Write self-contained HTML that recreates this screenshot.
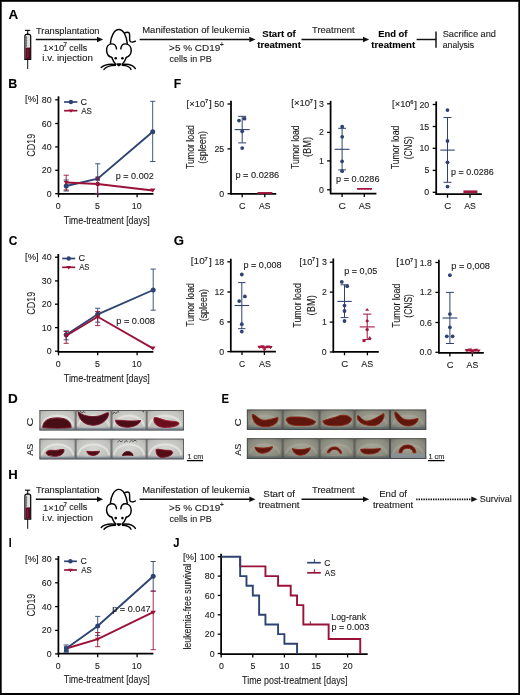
<!DOCTYPE html>
<html><head><meta charset="utf-8"><title>Figure</title>
<style>
html,body{margin:0;padding:0;background:#fff;width:520px;height:695px;overflow:hidden;}
svg{display:block;will-change:transform;}
text{font-family:"Liberation Sans",sans-serif;stroke:currentColor;stroke-width:0.1px;}
</style></head><body>
<svg width="520" height="695" viewBox="0 0 520 695">
<rect width="520" height="695" fill="#fff"/>
<text x="8.47" y="18.60" font-size="12.5" font-weight="bold" fill="#000" textLength="9.69" lengthAdjust="spacingAndGlyphs">A</text>
<text x="8.17" y="87.50" font-size="12.5" font-weight="bold" fill="#000" textLength="9.00" lengthAdjust="spacingAndGlyphs">B</text>
<text x="8.71" y="245.20" font-size="12.5" font-weight="bold" fill="#000" textLength="8.62" lengthAdjust="spacingAndGlyphs">C</text>
<text x="7.99" y="402.50" font-size="12.5" font-weight="bold" fill="#000" textLength="9.77" lengthAdjust="spacingAndGlyphs">D</text>
<text x="221.45" y="402.50" font-size="12.5" font-weight="bold" fill="#000" textLength="7.49" lengthAdjust="spacingAndGlyphs">E</text>
<text x="173.68" y="87.50" font-size="12.5" font-weight="bold" fill="#000" textLength="7.47" lengthAdjust="spacingAndGlyphs">F</text>
<text x="173.76" y="245.10" font-size="12.5" font-weight="bold" fill="#000" textLength="10.26" lengthAdjust="spacingAndGlyphs">G</text>
<text x="8.22" y="478.60" font-size="12.5" font-weight="bold" fill="#000" textLength="9.46" lengthAdjust="spacingAndGlyphs">H</text>
<text x="8.80" y="547.10" font-size="12.5" font-weight="bold" fill="#000" textLength="2.89" lengthAdjust="spacingAndGlyphs">I</text>
<text x="173.23" y="547.10" font-size="12.5" font-weight="bold" fill="#000" textLength="6.24" lengthAdjust="spacingAndGlyphs">J</text>
<g transform="translate(0,0)">
<line x1="25.00" y1="30.40" x2="30.20" y2="30.40" stroke="#111" stroke-width="1.2"/>
<line x1="27.70" y1="30.40" x2="27.70" y2="34.40" stroke="#111" stroke-width="1.1"/>
<path d="M24.9,36 Q24.9,34.2 27.7,34.1 Q30.7,34.2 30.7,36 L30.7,59.4 L24.9,59.4 Z" fill="#e0e0e0" stroke="#000" stroke-width="1.2"/>
<rect x="25.5" y="47.6" width="4.6" height="11.4" fill="#5a0a22"/>
<rect x="26.8" y="49" width="1.5" height="8.5" fill="#8a1e40" opacity="0.8"/>
<rect x="25.5" y="36" width="1.3" height="11" fill="#7a7a7a"/>
<line x1="25.40" y1="38.00" x2="27.30" y2="38.00" stroke="#555" stroke-width="0.6"/>
<line x1="25.40" y1="40.50" x2="27.30" y2="40.50" stroke="#555" stroke-width="0.6"/>
<line x1="25.40" y1="43.00" x2="27.30" y2="43.00" stroke="#555" stroke-width="0.6"/>
<line x1="25.40" y1="45.50" x2="27.30" y2="45.50" stroke="#555" stroke-width="0.6"/>
<line x1="27.70" y1="59.40" x2="27.70" y2="69.00" stroke="#111" stroke-width="1.0"/>
</g>
<text x="35.99" y="33.50" font-size="8.4" fill="#262626" textLength="63.51" lengthAdjust="spacingAndGlyphs">Transplantation</text>
<line x1="35.80" y1="39.50" x2="97.50" y2="39.50" stroke="#111" stroke-width="1.45"/>
<path d="M97.00,36.80 L103.20,39.50 L97.00,42.20Z" fill="#111"/>
<text x="43.08" y="50.80" font-size="8.4" fill="#262626" textLength="21.29" lengthAdjust="spacingAndGlyphs">1×10</text>
<text x="63.60" y="46.90" font-size="6.3" font-weight="bold" fill="#444" text-anchor="start">7</text>
<text x="69.22" y="50.60" font-size="8.4" fill="#262626" textLength="17.90" lengthAdjust="spacingAndGlyphs">cells</text>
<text x="42.35" y="61.20" font-size="8.4" fill="#262626" textLength="50.58" lengthAdjust="spacingAndGlyphs">i.v. injection</text>
<g transform="translate(0,0)" fill="none" stroke="#000" stroke-width="1.45" stroke-linecap="round" stroke-linejoin="round">
<path d="M110.4,43.4 C110.8,37 114,29.6 118.8,29.6 C123.5,29.6 126.6,36 127.3,43.6"/>
<path d="M125,32.7 C126.5,32.2 128.3,32 129.2,33 C130.2,34.5 129.2,38.5 129.8,40.6 C130.4,42.6 133.5,42.4 135.4,41.2"/>
<path d="M116.5,48.9 C116.2,45.5 114,43.8 111.5,43.9 C108.3,44.1 106.4,47 106.6,50.6 C106.8,54.2 109,56.6 111.8,57.4"/>
<path d="M120.8,48.9 C121.1,45.5 123.3,43.8 125.8,43.9 C129,44.1 131.2,47 131.2,50.6 C131.1,54.2 129,56.6 126.3,57.4"/>
<path d="M111.8,57.4 C112.8,60 114,62.6 115.6,64.2"/>
<path d="M126.3,57.4 C125.3,60 124,62.6 122.3,64.2"/>
<path d="M115.2,64.4 C110,63.8 104,64.8 101.2,67.6"/>
<path d="M115.4,65.4 C111,65.5 106,66.8 104.0,69.4"/>
<path d="M122.6,64.4 C127.6,63.8 133,64.8 135.4,68.6"/>
<path d="M122.4,65.4 C126.6,65.5 129.8,66.8 131.0,69.4"/>
</g>
<g transform="translate(0,0)">
<circle cx="115.70" cy="58.30" r="1.3" fill="#000"/>
<circle cx="122.40" cy="58.30" r="1.3" fill="#000"/>
<path d="M116.2,63.8 C117.5,63.2 120.3,63.2 121.6,63.8 C121.2,65.2 120,66.2 118.9,66.4 C117.8,66.2 116.6,65.2 116.2,63.8Z" fill="#000"/>
</g>
<line x1="139.60" y1="39.50" x2="249.80" y2="39.50" stroke="#111" stroke-width="1.45"/>
<path d="M249.30,36.80 L255.50,39.50 L249.30,42.20Z" fill="#111"/>
<text x="142.22" y="33.40" font-size="8.4" fill="#262626" textLength="107.48" lengthAdjust="spacingAndGlyphs">Manifestation of leukemia</text>
<text x="169.11" y="51.20" font-size="8.4" fill="#262626" textLength="51.16" lengthAdjust="spacingAndGlyphs">&gt;5 % CD19</text>
<text x="219.90" y="47.30" font-size="6.3" font-weight="bold" fill="#444" text-anchor="start">+</text>
<text x="169.62" y="62.00" font-size="8.4" fill="#262626" textLength="42.06" lengthAdjust="spacingAndGlyphs">cells in PB</text>
<g transform="translate(0,459.8)">
<line x1="25.00" y1="30.40" x2="30.20" y2="30.40" stroke="#111" stroke-width="1.2"/>
<line x1="27.70" y1="30.40" x2="27.70" y2="34.40" stroke="#111" stroke-width="1.1"/>
<path d="M24.9,36 Q24.9,34.2 27.7,34.1 Q30.7,34.2 30.7,36 L30.7,59.4 L24.9,59.4 Z" fill="#e0e0e0" stroke="#000" stroke-width="1.2"/>
<rect x="25.5" y="47.6" width="4.6" height="11.4" fill="#5a0a22"/>
<rect x="26.8" y="49" width="1.5" height="8.5" fill="#8a1e40" opacity="0.8"/>
<rect x="25.5" y="36" width="1.3" height="11" fill="#7a7a7a"/>
<line x1="25.40" y1="38.00" x2="27.30" y2="38.00" stroke="#555" stroke-width="0.6"/>
<line x1="25.40" y1="40.50" x2="27.30" y2="40.50" stroke="#555" stroke-width="0.6"/>
<line x1="25.40" y1="43.00" x2="27.30" y2="43.00" stroke="#555" stroke-width="0.6"/>
<line x1="25.40" y1="45.50" x2="27.30" y2="45.50" stroke="#555" stroke-width="0.6"/>
<line x1="27.70" y1="59.40" x2="27.70" y2="69.00" stroke="#111" stroke-width="1.0"/>
</g>
<text x="35.99" y="493.30" font-size="8.4" fill="#262626" textLength="63.51" lengthAdjust="spacingAndGlyphs">Transplantation</text>
<line x1="35.80" y1="499.30" x2="97.50" y2="499.30" stroke="#111" stroke-width="1.45"/>
<path d="M97.00,496.60 L103.20,499.30 L97.00,502.00Z" fill="#111"/>
<text x="43.08" y="510.60" font-size="8.4" fill="#262626" textLength="21.29" lengthAdjust="spacingAndGlyphs">1×10</text>
<text x="63.60" y="506.70" font-size="6.3" font-weight="bold" fill="#444" text-anchor="start">7</text>
<text x="69.22" y="510.40" font-size="8.4" fill="#262626" textLength="17.90" lengthAdjust="spacingAndGlyphs">cells</text>
<text x="42.35" y="521.00" font-size="8.4" fill="#262626" textLength="50.58" lengthAdjust="spacingAndGlyphs">i.v. injection</text>
<g transform="translate(0,459.8)" fill="none" stroke="#000" stroke-width="1.45" stroke-linecap="round" stroke-linejoin="round">
<path d="M110.4,43.4 C110.8,37 114,29.6 118.8,29.6 C123.5,29.6 126.6,36 127.3,43.6"/>
<path d="M125,32.7 C126.5,32.2 128.3,32 129.2,33 C130.2,34.5 129.2,38.5 129.8,40.6 C130.4,42.6 133.5,42.4 135.4,41.2"/>
<path d="M116.5,48.9 C116.2,45.5 114,43.8 111.5,43.9 C108.3,44.1 106.4,47 106.6,50.6 C106.8,54.2 109,56.6 111.8,57.4"/>
<path d="M120.8,48.9 C121.1,45.5 123.3,43.8 125.8,43.9 C129,44.1 131.2,47 131.2,50.6 C131.1,54.2 129,56.6 126.3,57.4"/>
<path d="M111.8,57.4 C112.8,60 114,62.6 115.6,64.2"/>
<path d="M126.3,57.4 C125.3,60 124,62.6 122.3,64.2"/>
<path d="M115.2,64.4 C110,63.8 104,64.8 101.2,67.6"/>
<path d="M115.4,65.4 C111,65.5 106,66.8 104.0,69.4"/>
<path d="M122.6,64.4 C127.6,63.8 133,64.8 135.4,68.6"/>
<path d="M122.4,65.4 C126.6,65.5 129.8,66.8 131.0,69.4"/>
</g>
<g transform="translate(0,459.8)">
<circle cx="115.70" cy="58.30" r="1.3" fill="#000"/>
<circle cx="122.40" cy="58.30" r="1.3" fill="#000"/>
<path d="M116.2,63.8 C117.5,63.2 120.3,63.2 121.6,63.8 C121.2,65.2 120,66.2 118.9,66.4 C117.8,66.2 116.6,65.2 116.2,63.8Z" fill="#000"/>
</g>
<line x1="139.60" y1="499.30" x2="249.80" y2="499.30" stroke="#111" stroke-width="1.45"/>
<path d="M249.30,496.60 L255.50,499.30 L249.30,502.00Z" fill="#111"/>
<text x="142.22" y="493.20" font-size="8.4" fill="#262626" textLength="107.48" lengthAdjust="spacingAndGlyphs">Manifestation of leukemia</text>
<text x="169.11" y="511.00" font-size="8.4" fill="#262626" textLength="51.16" lengthAdjust="spacingAndGlyphs">&gt;5 % CD19</text>
<text x="219.90" y="507.10" font-size="6.3" font-weight="bold" fill="#444" text-anchor="start">+</text>
<text x="169.62" y="521.80" font-size="8.4" fill="#262626" textLength="42.06" lengthAdjust="spacingAndGlyphs">cells in PB</text>
<text x="262.32" y="36.60" font-size="8.6" font-weight="bold" fill="#000" textLength="33.46" lengthAdjust="spacingAndGlyphs">Start of</text>
<text x="257.28" y="48.00" font-size="8.6" font-weight="bold" fill="#000" textLength="43.63" lengthAdjust="spacingAndGlyphs">treatment</text>
<line x1="301.50" y1="39.50" x2="363.50" y2="39.50" stroke="#111" stroke-width="1.45"/>
<path d="M363.00,36.80 L369.20,39.50 L363.00,42.20Z" fill="#111"/>
<text x="312.09" y="33.00" font-size="8.4" fill="#262626" textLength="42.48" lengthAdjust="spacingAndGlyphs">Treatment</text>
<text x="378.17" y="36.60" font-size="8.6" font-weight="bold" fill="#000" textLength="29.21" lengthAdjust="spacingAndGlyphs">End of</text>
<text x="371.38" y="48.00" font-size="8.6" font-weight="bold" fill="#000" textLength="43.83" lengthAdjust="spacingAndGlyphs">treatment</text>
<line x1="416.60" y1="39.50" x2="436.20" y2="39.50" stroke="#111" stroke-width="1.45"/>
<line x1="436.00" y1="31.50" x2="436.00" y2="47.80" stroke="#111" stroke-width="1.45"/>
<text x="442.68" y="36.60" font-size="8.4" fill="#262626" textLength="53.31" lengthAdjust="spacingAndGlyphs">Sacrifice and</text>
<text x="442.73" y="47.70" font-size="8.4" fill="#262626" textLength="31.38" lengthAdjust="spacingAndGlyphs">analysis</text>
<text x="263.36" y="496.60" font-size="8.4" fill="#262626" textLength="31.53" lengthAdjust="spacingAndGlyphs">Start of</text>
<text x="258.75" y="508.00" font-size="8.4" fill="#262626" textLength="40.82" lengthAdjust="spacingAndGlyphs">treatment</text>
<line x1="301.50" y1="499.30" x2="363.50" y2="499.30" stroke="#111" stroke-width="1.45"/>
<path d="M363.00,496.60 L369.20,499.30 L363.00,502.00Z" fill="#111"/>
<text x="312.09" y="493.10" font-size="8.4" fill="#262626" textLength="42.58" lengthAdjust="spacingAndGlyphs">Treatment</text>
<text x="379.21" y="496.60" font-size="8.4" fill="#262626" textLength="27.67" lengthAdjust="spacingAndGlyphs">End of</text>
<text x="372.96" y="508.00" font-size="8.4" fill="#262626" textLength="40.21" lengthAdjust="spacingAndGlyphs">treatment</text>
<line x1="416.20" y1="499.30" x2="471.80" y2="499.30" stroke="#111" stroke-width="1.7" stroke-dasharray="1.4 1.0"/>
<path d="M471.30,496.60 L477.50,499.30 L471.30,502.00Z" fill="#111"/>
<text x="479.79" y="502.20" font-size="8.4" fill="#262626" textLength="32.11" lengthAdjust="spacingAndGlyphs">Survival</text>
<line x1="58.50" y1="96.30" x2="58.50" y2="194.40" stroke="#000" stroke-width="1.75"/>
<line x1="57.90" y1="193.80" x2="153.50" y2="193.80" stroke="#000" stroke-width="1.75"/>
<line x1="55.20" y1="99.80" x2="58.50" y2="99.80" stroke="#000" stroke-width="1.3"/>
<text x="41.76" y="102.87" font-size="8.8" fill="#262626">80</text>
<line x1="55.20" y1="123.50" x2="58.50" y2="123.50" stroke="#000" stroke-width="1.3"/>
<text x="41.76" y="126.57" font-size="8.8" fill="#262626">60</text>
<line x1="55.20" y1="146.90" x2="58.50" y2="146.90" stroke="#000" stroke-width="1.3"/>
<text x="41.76" y="149.97" font-size="8.8" fill="#262626">40</text>
<line x1="55.20" y1="170.30" x2="58.50" y2="170.30" stroke="#000" stroke-width="1.3"/>
<text x="41.76" y="173.37" font-size="8.8" fill="#262626">20</text>
<line x1="55.20" y1="193.70" x2="58.50" y2="193.70" stroke="#000" stroke-width="1.3"/>
<text x="46.65" y="196.77" font-size="8.8" fill="#262626">0</text>
<text x="25.13" y="102.47" font-size="8.8" fill="#262626" textLength="13.54" lengthAdjust="spacingAndGlyphs">[%]</text>
<line x1="58.50" y1="193.80" x2="58.50" y2="197.30" stroke="#000" stroke-width="1.3"/>
<text x="55.75" y="208.80" font-size="8.8" fill="#262626">0</text>
<line x1="97.70" y1="193.80" x2="97.70" y2="197.30" stroke="#000" stroke-width="1.3"/>
<text x="94.96" y="208.80" font-size="8.8" fill="#262626">5</text>
<line x1="137.10" y1="193.80" x2="137.10" y2="197.30" stroke="#000" stroke-width="1.3"/>
<text x="131.74" y="208.80" font-size="8.8" fill="#262626">10</text>
<text x="63.80" y="223.50" font-size="10.5" fill="#262626" textLength="86.03" lengthAdjust="spacingAndGlyphs">Time-treatment [days]</text>
<text transform="rotate(-90)" x="-156.65" y="34.90" font-size="11.0" fill="#262626" textLength="22.88" lengthAdjust="spacingAndGlyphs">CD19</text>
<line x1="64.10" y1="102.00" x2="77.30" y2="102.00" stroke="#2d4472" stroke-width="1.7"/>
<circle cx="70.90" cy="102.00" r="2.2" fill="#2d4472"/>
<line x1="64.10" y1="110.70" x2="77.30" y2="110.70" stroke="#9a1238" stroke-width="1.7"/>
<path d="M68.50,109.40 L73.30,109.40 L70.90,112.86Z" fill="#9a1238"/>
<text x="80.54" y="104.90" font-size="9.200000000000001" fill="#262626" textLength="6.50" lengthAdjust="spacingAndGlyphs">C</text>
<text x="81.18" y="113.60" font-size="9.200000000000001" fill="#262626" textLength="10.68" lengthAdjust="spacingAndGlyphs">AS</text>
<line x1="152.70" y1="101.30" x2="152.70" y2="161.50" stroke="#2d4472" stroke-width="0.9"/>
<line x1="150.10" y1="101.30" x2="155.30" y2="101.30" stroke="#2d4472" stroke-width="0.9"/>
<line x1="150.10" y1="161.50" x2="155.30" y2="161.50" stroke="#2d4472" stroke-width="0.9"/>
<line x1="97.70" y1="163.80" x2="97.70" y2="193.40" stroke="#2d4472" stroke-width="0.9"/>
<line x1="95.10" y1="163.80" x2="100.30" y2="163.80" stroke="#2d4472" stroke-width="0.9"/>
<line x1="95.10" y1="193.40" x2="100.30" y2="193.40" stroke="#2d4472" stroke-width="0.9"/>
<line x1="66.20" y1="180.00" x2="66.20" y2="191.00" stroke="#2d4472" stroke-width="0.9"/>
<line x1="63.60" y1="180.00" x2="68.80" y2="180.00" stroke="#2d4472" stroke-width="0.9"/>
<line x1="63.60" y1="191.00" x2="68.80" y2="191.00" stroke="#2d4472" stroke-width="0.9"/>
<line x1="66.20" y1="175.20" x2="66.20" y2="190.00" stroke="#9a1238" stroke-width="0.9"/>
<line x1="63.60" y1="175.20" x2="68.80" y2="175.20" stroke="#9a1238" stroke-width="0.9"/>
<line x1="63.60" y1="190.00" x2="68.80" y2="190.00" stroke="#9a1238" stroke-width="0.9"/>
<line x1="97.70" y1="184.00" x2="97.70" y2="196.00" stroke="#9a1238" stroke-width="0.9"/>
<line x1="97.69" y1="184.00" x2="97.71" y2="184.00" stroke="#9a1238" stroke-width="0.9"/>
<line x1="97.69" y1="196.00" x2="97.71" y2="196.00" stroke="#9a1238" stroke-width="0.9"/>
<polyline points="66.20,186.00 97.70,178.60 152.70,131.70" fill="none" stroke="#2d4472" stroke-width="1.9" stroke-linejoin="miter"/>
<polyline points="66.20,182.50 97.70,184.00 152.70,190.50" fill="none" stroke="#9a1238" stroke-width="1.9" stroke-linejoin="miter"/>
<circle cx="66.20" cy="186.00" r="2.5" fill="#2d4472"/>
<rect x="95.50" y="176.40" width="4.40" height="4.40" fill="#5a2a5a"/>
<circle cx="152.70" cy="131.70" r="2.5" fill="#2d4472"/>
<path d="M63.60,181.10 L68.80,181.10 L66.20,184.84Z" fill="#9a1238"/>
<circle cx="97.70" cy="184.00" r="2.3" fill="#9a1238"/>
<path d="M149.90,188.49 L155.50,188.49 L152.70,192.52Z" fill="#9a1238"/>
<text x="115.72" y="178.80" font-size="8.8" fill="#262626" textLength="38.04" lengthAdjust="spacingAndGlyphs">p = 0.002</text>
<line x1="58.30" y1="254.00" x2="58.30" y2="352.40" stroke="#000" stroke-width="1.75"/>
<line x1="57.70" y1="351.80" x2="153.40" y2="351.80" stroke="#000" stroke-width="1.75"/>
<line x1="55.00" y1="257.20" x2="58.30" y2="257.20" stroke="#000" stroke-width="1.3"/>
<text x="41.76" y="260.27" font-size="8.8" fill="#262626">40</text>
<line x1="55.00" y1="280.90" x2="58.30" y2="280.90" stroke="#000" stroke-width="1.3"/>
<text x="41.76" y="283.97" font-size="8.8" fill="#262626">30</text>
<line x1="55.00" y1="304.20" x2="58.30" y2="304.20" stroke="#000" stroke-width="1.3"/>
<text x="41.76" y="307.27" font-size="8.8" fill="#262626">20</text>
<line x1="55.00" y1="327.60" x2="58.30" y2="327.60" stroke="#000" stroke-width="1.3"/>
<text x="41.76" y="330.67" font-size="8.8" fill="#262626">10</text>
<line x1="55.00" y1="351.20" x2="58.30" y2="351.20" stroke="#000" stroke-width="1.3"/>
<text x="46.65" y="354.27" font-size="8.8" fill="#262626">0</text>
<text x="25.13" y="259.87" font-size="8.8" fill="#262626" textLength="13.54" lengthAdjust="spacingAndGlyphs">[%]</text>
<line x1="58.50" y1="351.80" x2="58.50" y2="355.30" stroke="#000" stroke-width="1.3"/>
<text x="55.75" y="366.80" font-size="8.8" fill="#262626">0</text>
<line x1="97.70" y1="351.80" x2="97.70" y2="355.30" stroke="#000" stroke-width="1.3"/>
<text x="94.96" y="366.80" font-size="8.8" fill="#262626">5</text>
<line x1="137.10" y1="351.80" x2="137.10" y2="355.30" stroke="#000" stroke-width="1.3"/>
<text x="131.74" y="366.80" font-size="8.8" fill="#262626">10</text>
<text x="63.80" y="381.50" font-size="10.5" fill="#262626" textLength="86.03" lengthAdjust="spacingAndGlyphs">Time-treatment [days]</text>
<text transform="rotate(-90)" x="-314.65" y="34.90" font-size="11.0" fill="#262626" textLength="22.88" lengthAdjust="spacingAndGlyphs">CD19</text>
<line x1="62.20" y1="258.50" x2="75.20" y2="258.50" stroke="#2d4472" stroke-width="1.7"/>
<circle cx="68.70" cy="258.50" r="2.2" fill="#2d4472"/>
<line x1="62.20" y1="267.30" x2="75.20" y2="267.30" stroke="#9a1238" stroke-width="1.7"/>
<path d="M66.30,266.00 L71.10,266.00 L68.70,269.46Z" fill="#9a1238"/>
<text x="78.53" y="261.40" font-size="9.200000000000001" fill="#262626" textLength="6.61" lengthAdjust="spacingAndGlyphs">C</text>
<text x="79.18" y="270.20" font-size="9.200000000000001" fill="#262626" textLength="10.27" lengthAdjust="spacingAndGlyphs">AS</text>
<line x1="153.20" y1="269.10" x2="153.20" y2="310.20" stroke="#2d4472" stroke-width="0.9"/>
<line x1="150.60" y1="269.10" x2="155.80" y2="269.10" stroke="#2d4472" stroke-width="0.9"/>
<line x1="150.60" y1="310.20" x2="155.80" y2="310.20" stroke="#2d4472" stroke-width="0.9"/>
<line x1="97.70" y1="308.30" x2="97.70" y2="322.20" stroke="#2d4472" stroke-width="0.9"/>
<line x1="95.10" y1="308.30" x2="100.30" y2="308.30" stroke="#2d4472" stroke-width="0.9"/>
<line x1="95.10" y1="322.20" x2="100.30" y2="322.20" stroke="#2d4472" stroke-width="0.9"/>
<line x1="66.20" y1="330.90" x2="66.20" y2="339.80" stroke="#2d4472" stroke-width="0.9"/>
<line x1="63.60" y1="330.90" x2="68.80" y2="330.90" stroke="#2d4472" stroke-width="0.9"/>
<line x1="63.60" y1="339.80" x2="68.80" y2="339.80" stroke="#2d4472" stroke-width="0.9"/>
<polyline points="66.20,334.80 97.70,314.30 153.20,290.00" fill="none" stroke="#2d4472" stroke-width="1.9" stroke-linejoin="miter"/>
<circle cx="66.20" cy="334.80" r="2.5" fill="#2d4472"/>
<circle cx="97.70" cy="314.30" r="2.5" fill="#2d4472"/>
<circle cx="153.20" cy="290.00" r="2.5" fill="#2d4472"/>
<line x1="97.70" y1="311.50" x2="97.70" y2="325.60" stroke="#9a1238" stroke-width="0.9"/>
<line x1="95.10" y1="311.50" x2="100.30" y2="311.50" stroke="#9a1238" stroke-width="0.9"/>
<line x1="95.10" y1="325.60" x2="100.30" y2="325.60" stroke="#9a1238" stroke-width="0.9"/>
<line x1="66.20" y1="331.50" x2="66.20" y2="343.30" stroke="#9a1238" stroke-width="0.9"/>
<line x1="63.60" y1="331.50" x2="68.80" y2="331.50" stroke="#9a1238" stroke-width="0.9"/>
<line x1="63.60" y1="343.30" x2="68.80" y2="343.30" stroke="#9a1238" stroke-width="0.9"/>
<polyline points="66.20,335.80 97.70,316.80 152.80,348.40" fill="none" stroke="#9a1238" stroke-width="1.9" stroke-linejoin="miter"/>
<path d="M63.60,334.40 L68.80,334.40 L66.20,338.14Z" fill="#9a1238"/>
<path d="M95.10,315.40 L100.30,315.40 L97.70,319.14Z" fill="#9a1238"/>
<path d="M150.00,346.49 L155.60,346.49 L152.80,350.52Z" fill="#9a1238"/>
<text x="116.21" y="323.50" font-size="8.8" fill="#262626" textLength="38.69" lengthAdjust="spacingAndGlyphs">p = 0.008</text>
<line x1="58.40" y1="556.00" x2="58.40" y2="654.30" stroke="#000" stroke-width="1.75"/>
<line x1="57.80" y1="653.70" x2="153.40" y2="653.70" stroke="#000" stroke-width="1.75"/>
<line x1="55.10" y1="559.10" x2="58.40" y2="559.10" stroke="#000" stroke-width="1.3"/>
<text x="41.76" y="562.17" font-size="8.8" fill="#262626">80</text>
<line x1="55.10" y1="582.80" x2="58.40" y2="582.80" stroke="#000" stroke-width="1.3"/>
<text x="41.76" y="585.87" font-size="8.8" fill="#262626">60</text>
<line x1="55.10" y1="606.60" x2="58.40" y2="606.60" stroke="#000" stroke-width="1.3"/>
<text x="41.76" y="609.67" font-size="8.8" fill="#262626">40</text>
<line x1="55.10" y1="630.40" x2="58.40" y2="630.40" stroke="#000" stroke-width="1.3"/>
<text x="41.76" y="633.47" font-size="8.8" fill="#262626">20</text>
<line x1="55.10" y1="653.90" x2="58.40" y2="653.90" stroke="#000" stroke-width="1.3"/>
<text x="46.65" y="656.97" font-size="8.8" fill="#262626">0</text>
<text x="25.13" y="561.77" font-size="8.8" fill="#262626" textLength="13.54" lengthAdjust="spacingAndGlyphs">[%]</text>
<line x1="58.50" y1="653.70" x2="58.50" y2="657.20" stroke="#000" stroke-width="1.3"/>
<text x="55.75" y="668.70" font-size="8.8" fill="#262626">0</text>
<line x1="97.70" y1="653.70" x2="97.70" y2="657.20" stroke="#000" stroke-width="1.3"/>
<text x="94.96" y="668.70" font-size="8.8" fill="#262626">5</text>
<line x1="137.10" y1="653.70" x2="137.10" y2="657.20" stroke="#000" stroke-width="1.3"/>
<text x="131.74" y="668.70" font-size="8.8" fill="#262626">10</text>
<text x="63.80" y="683.40" font-size="10.5" fill="#262626" textLength="86.03" lengthAdjust="spacingAndGlyphs">Time-treatment [days]</text>
<text transform="rotate(-90)" x="-616.55" y="34.90" font-size="11.0" fill="#262626" textLength="22.88" lengthAdjust="spacingAndGlyphs">CD19</text>
<line x1="64.10" y1="561.30" x2="76.90" y2="561.30" stroke="#2d4472" stroke-width="1.7"/>
<circle cx="70.40" cy="561.30" r="2.2" fill="#2d4472"/>
<line x1="64.10" y1="570.00" x2="76.90" y2="570.00" stroke="#9a1238" stroke-width="1.7"/>
<path d="M68.00,568.70 L72.80,568.70 L70.40,572.16Z" fill="#9a1238"/>
<text x="80.56" y="564.20" font-size="9.200000000000001" fill="#262626" textLength="6.27" lengthAdjust="spacingAndGlyphs">C</text>
<text x="81.18" y="572.90" font-size="9.200000000000001" fill="#262626" textLength="10.48" lengthAdjust="spacingAndGlyphs">AS</text>
<line x1="153.20" y1="561.50" x2="153.20" y2="591.10" stroke="#2d4472" stroke-width="0.9"/>
<line x1="150.60" y1="561.50" x2="155.80" y2="561.50" stroke="#2d4472" stroke-width="0.9"/>
<line x1="150.60" y1="591.10" x2="155.80" y2="591.10" stroke="#2d4472" stroke-width="0.9"/>
<line x1="153.20" y1="591.10" x2="153.20" y2="649.70" stroke="#9a1238" stroke-width="0.9"/>
<line x1="150.60" y1="591.10" x2="155.80" y2="591.10" stroke="#9a1238" stroke-width="0.9"/>
<line x1="150.60" y1="649.70" x2="155.80" y2="649.70" stroke="#9a1238" stroke-width="0.9"/>
<line x1="97.70" y1="616.40" x2="97.70" y2="635.60" stroke="#2d4472" stroke-width="0.9"/>
<line x1="95.10" y1="616.40" x2="100.30" y2="616.40" stroke="#2d4472" stroke-width="0.9"/>
<line x1="95.10" y1="635.60" x2="100.30" y2="635.60" stroke="#2d4472" stroke-width="0.9"/>
<line x1="97.70" y1="632.50" x2="97.70" y2="646.70" stroke="#9a1238" stroke-width="0.9"/>
<line x1="95.10" y1="632.50" x2="100.30" y2="632.50" stroke="#9a1238" stroke-width="0.9"/>
<line x1="95.10" y1="646.70" x2="100.30" y2="646.70" stroke="#9a1238" stroke-width="0.9"/>
<line x1="66.20" y1="645.00" x2="66.20" y2="652.00" stroke="#2d4472" stroke-width="0.9"/>
<line x1="63.60" y1="645.00" x2="68.80" y2="645.00" stroke="#2d4472" stroke-width="0.9"/>
<line x1="63.60" y1="652.00" x2="68.80" y2="652.00" stroke="#2d4472" stroke-width="0.9"/>
<polyline points="66.20,648.50 97.70,626.00 153.20,576.30" fill="none" stroke="#2d4472" stroke-width="1.9" stroke-linejoin="miter"/>
<polyline points="66.20,648.50 97.70,639.20 153.20,612.20" fill="none" stroke="#9a1238" stroke-width="1.9" stroke-linejoin="miter"/>
<rect x="64.0" y="646.2" width="4.6" height="6.2" fill="#2a4677"/>
<circle cx="97.70" cy="626.00" r="2.5" fill="#2d4472"/>
<circle cx="153.20" cy="576.30" r="2.5" fill="#2d4472"/>
<path d="M95.10,637.80 L100.30,637.80 L97.70,641.54Z" fill="#9a1238"/>
<path d="M150.40,610.69 L156.00,610.69 L153.20,614.72Z" fill="#9a1238"/>
<text x="112.21" y="611.50" font-size="8.8" fill="#262626" textLength="38.35" lengthAdjust="spacingAndGlyphs">p = 0.047</text>
<line x1="231.00" y1="100.80" x2="231.00" y2="194.40" stroke="#000" stroke-width="1.75"/>
<line x1="230.40" y1="193.80" x2="276.30" y2="193.80" stroke="#000" stroke-width="1.75"/>
<line x1="227.50" y1="104.00" x2="231.00" y2="104.00" stroke="#000" stroke-width="1.3"/>
<text x="214.36" y="107.07" font-size="8.8" fill="#262626">50</text>
<line x1="227.50" y1="148.90" x2="231.00" y2="148.90" stroke="#000" stroke-width="1.3"/>
<text x="214.38" y="151.97" font-size="8.8" fill="#262626">25</text>
<line x1="227.50" y1="193.70" x2="231.00" y2="193.70" stroke="#000" stroke-width="1.3"/>
<text x="219.25" y="196.77" font-size="8.8" fill="#262626">0</text>
<text x="186.63" y="106.57" font-size="8.8" fill="#262626" textLength="18.55" lengthAdjust="spacingAndGlyphs">[×10</text>
<text x="204.91" y="103.27" font-size="5.8" font-weight="bold" fill="#444" text-anchor="start">7</text>
<text x="208.92" y="107.07" font-size="8.8" fill="#262626" textLength="2.80" lengthAdjust="spacingAndGlyphs">]</text>
<line x1="242.20" y1="193.80" x2="242.20" y2="197.30" stroke="#000" stroke-width="1.3"/>
<line x1="264.80" y1="193.80" x2="264.80" y2="197.30" stroke="#000" stroke-width="1.3"/>
<text x="238.93" y="208.50" font-size="9.8" fill="#262626" textLength="6.61" lengthAdjust="spacingAndGlyphs">C</text>
<text x="258.98" y="208.50" font-size="9.8" fill="#262626" textLength="11.41" lengthAdjust="spacingAndGlyphs">AS</text>
<text transform="rotate(-90)" x="-169.10" y="193.60" font-size="10.5" fill="#262626" textLength="44.06" lengthAdjust="spacingAndGlyphs">Tumor load</text>
<text transform="rotate(-90)" x="-163.86" y="206.30" font-size="10.5" fill="#262626" textLength="32.83" lengthAdjust="spacingAndGlyphs">(spleen)</text>
<text x="235.41" y="178.30" font-size="8.8" fill="#262626" textLength="43.70" lengthAdjust="spacingAndGlyphs">p = 0.0286</text>
<line x1="242.20" y1="116.30" x2="242.20" y2="142.90" stroke="#2f426f" stroke-width="1.0"/>
<line x1="238.20" y1="116.30" x2="246.20" y2="116.30" stroke="#2f426f" stroke-width="1.0"/>
<line x1="238.20" y1="142.90" x2="246.20" y2="142.90" stroke="#2f426f" stroke-width="1.0"/>
<line x1="234.70" y1="129.60" x2="249.70" y2="129.60" stroke="#2f426f" stroke-width="1.1"/>
<circle cx="239.00" cy="120.60" r="1.9" fill="#2f426f"/>
<circle cx="244.50" cy="118.70" r="1.9" fill="#2f426f"/>
<circle cx="242.20" cy="131.30" r="1.9" fill="#2f426f"/>
<circle cx="242.20" cy="148.10" r="1.9" fill="#2f426f"/>
<line x1="257.50" y1="193.00" x2="272.00" y2="193.00" stroke="#a3173f" stroke-width="1.6"/>
<path d="M257.80,192.08 L261.20,192.08 L259.50,194.53Z" fill="#a3173f"/>
<path d="M260.80,192.08 L264.20,192.08 L262.50,194.53Z" fill="#a3173f"/>
<path d="M263.80,192.08 L267.20,192.08 L265.50,194.53Z" fill="#a3173f"/>
<path d="M266.80,192.08 L270.20,192.08 L268.50,194.53Z" fill="#a3173f"/>
<path d="M269.30,192.08 L272.70,192.08 L271.00,194.53Z" fill="#a3173f"/>
<line x1="330.60" y1="100.90" x2="330.60" y2="194.10" stroke="#000" stroke-width="1.75"/>
<line x1="330.00" y1="193.50" x2="376.40" y2="193.50" stroke="#000" stroke-width="1.75"/>
<line x1="327.10" y1="103.80" x2="330.60" y2="103.80" stroke="#000" stroke-width="1.3"/>
<text x="318.99" y="106.87" font-size="8.8" fill="#262626">3</text>
<line x1="327.10" y1="132.40" x2="330.60" y2="132.40" stroke="#000" stroke-width="1.3"/>
<text x="319.05" y="135.47" font-size="8.8" fill="#262626">2</text>
<line x1="327.10" y1="160.90" x2="330.60" y2="160.90" stroke="#000" stroke-width="1.3"/>
<text x="319.04" y="163.97" font-size="8.8" fill="#262626">1</text>
<line x1="327.10" y1="189.80" x2="330.60" y2="189.80" stroke="#000" stroke-width="1.3"/>
<text x="318.95" y="192.87" font-size="8.8" fill="#262626">0</text>
<text x="291.32" y="106.37" font-size="8.8" fill="#262626" textLength="18.78" lengthAdjust="spacingAndGlyphs">[×10</text>
<text x="309.83" y="103.07" font-size="5.8" font-weight="bold" fill="#444" text-anchor="start">7</text>
<text x="313.92" y="106.87" font-size="8.8" fill="#262626" textLength="2.80" lengthAdjust="spacingAndGlyphs">]</text>
<line x1="342.10" y1="193.50" x2="342.10" y2="197.00" stroke="#000" stroke-width="1.3"/>
<line x1="364.30" y1="193.50" x2="364.30" y2="197.00" stroke="#000" stroke-width="1.3"/>
<text x="338.48" y="208.70" font-size="9.8" fill="#262626" textLength="7.41" lengthAdjust="spacingAndGlyphs">C</text>
<text x="358.68" y="208.70" font-size="9.8" fill="#262626" textLength="12.14" lengthAdjust="spacingAndGlyphs">AS</text>
<text transform="rotate(-90)" x="-168.89" y="298.60" font-size="10.5" fill="#262626" textLength="43.45" lengthAdjust="spacingAndGlyphs">Tumor load</text>
<text transform="rotate(-90)" x="-157.08" y="311.30" font-size="10.5" fill="#262626" textLength="20.15" lengthAdjust="spacingAndGlyphs">(BM)</text>
<text x="336.11" y="182.30" font-size="8.8" fill="#262626" textLength="43.39" lengthAdjust="spacingAndGlyphs">p = 0.0286</text>
<line x1="342.10" y1="128.30" x2="342.10" y2="169.90" stroke="#2f426f" stroke-width="1.0"/>
<line x1="338.20" y1="128.30" x2="346.00" y2="128.30" stroke="#2f426f" stroke-width="1.0"/>
<line x1="338.20" y1="169.90" x2="346.00" y2="169.90" stroke="#2f426f" stroke-width="1.0"/>
<line x1="334.70" y1="149.30" x2="349.50" y2="149.30" stroke="#2f426f" stroke-width="1.1"/>
<circle cx="342.20" cy="126.70" r="1.9" fill="#2f426f"/>
<circle cx="342.20" cy="136.80" r="1.9" fill="#2f426f"/>
<circle cx="342.10" cy="161.30" r="1.9" fill="#2f426f"/>
<circle cx="342.10" cy="171.20" r="1.9" fill="#2f426f"/>
<line x1="357.00" y1="188.80" x2="372.00" y2="188.80" stroke="#a3173f" stroke-width="1.6"/>
<path d="M357.40,187.94 L360.60,187.94 L359.00,190.24Z" fill="#a3173f"/>
<path d="M360.40,187.94 L363.60,187.94 L362.00,190.24Z" fill="#a3173f"/>
<path d="M363.40,187.94 L366.60,187.94 L365.00,190.24Z" fill="#a3173f"/>
<path d="M366.40,187.94 L369.60,187.94 L368.00,190.24Z" fill="#a3173f"/>
<path d="M368.90,187.94 L372.10,187.94 L370.50,190.24Z" fill="#a3173f"/>
<line x1="436.20" y1="101.40" x2="436.20" y2="194.80" stroke="#000" stroke-width="1.75"/>
<line x1="435.60" y1="194.20" x2="481.80" y2="194.20" stroke="#000" stroke-width="1.75"/>
<line x1="432.70" y1="104.50" x2="436.20" y2="104.50" stroke="#000" stroke-width="1.3"/>
<text x="419.46" y="107.57" font-size="8.8" fill="#262626">20</text>
<line x1="432.70" y1="126.50" x2="436.20" y2="126.50" stroke="#000" stroke-width="1.3"/>
<text x="419.48" y="129.57" font-size="8.8" fill="#262626">15</text>
<line x1="432.70" y1="148.30" x2="436.20" y2="148.30" stroke="#000" stroke-width="1.3"/>
<text x="419.46" y="151.37" font-size="8.8" fill="#262626">10</text>
<line x1="432.70" y1="170.40" x2="436.20" y2="170.40" stroke="#000" stroke-width="1.3"/>
<text x="424.38" y="173.47" font-size="8.8" fill="#262626">5</text>
<line x1="432.70" y1="192.30" x2="436.20" y2="192.30" stroke="#000" stroke-width="1.3"/>
<text x="424.35" y="195.37" font-size="8.8" fill="#262626">0</text>
<text x="392.14" y="107.07" font-size="8.8" fill="#262626" textLength="18.39" lengthAdjust="spacingAndGlyphs">[×10</text>
<text x="410.26" y="103.77" font-size="5.8" font-weight="bold" fill="#444" text-anchor="start">6</text>
<text x="414.22" y="107.57" font-size="8.8" fill="#262626" textLength="2.80" lengthAdjust="spacingAndGlyphs">]</text>
<line x1="447.50" y1="194.20" x2="447.50" y2="197.70" stroke="#000" stroke-width="1.3"/>
<line x1="470.00" y1="194.20" x2="470.00" y2="197.70" stroke="#000" stroke-width="1.3"/>
<text x="444.31" y="209.20" font-size="9.8" fill="#262626" textLength="6.96" lengthAdjust="spacingAndGlyphs">C</text>
<text x="464.28" y="209.20" font-size="9.8" fill="#262626" textLength="11.62" lengthAdjust="spacingAndGlyphs">AS</text>
<text transform="rotate(-90)" x="-169.19" y="399.20" font-size="10.5" fill="#262626" textLength="43.45" lengthAdjust="spacingAndGlyphs">Tumor load</text>
<text transform="rotate(-90)" x="-159.21" y="412.00" font-size="10.5" fill="#262626" textLength="23.03" lengthAdjust="spacingAndGlyphs">(CNS)</text>
<text x="450.92" y="174.90" font-size="8.8" fill="#262626" textLength="42.78" lengthAdjust="spacingAndGlyphs">p = 0.0286</text>
<line x1="447.50" y1="117.50" x2="447.50" y2="182.30" stroke="#2f426f" stroke-width="1.0"/>
<line x1="443.50" y1="117.50" x2="451.50" y2="117.50" stroke="#2f426f" stroke-width="1.0"/>
<line x1="443.50" y1="182.30" x2="451.50" y2="182.30" stroke="#2f426f" stroke-width="1.0"/>
<line x1="440.30" y1="150.10" x2="454.70" y2="150.10" stroke="#2f426f" stroke-width="1.1"/>
<circle cx="447.50" cy="110.10" r="1.9" fill="#2f426f"/>
<circle cx="447.50" cy="141.00" r="1.9" fill="#2f426f"/>
<circle cx="447.50" cy="162.30" r="1.9" fill="#2f426f"/>
<circle cx="447.50" cy="186.60" r="1.9" fill="#2f426f"/>
<rect x="463.4" y="190.4" width="14" height="2.6" fill="#a3173f"/>
<line x1="230.80" y1="258.70" x2="230.80" y2="352.10" stroke="#000" stroke-width="1.75"/>
<line x1="230.20" y1="351.50" x2="275.90" y2="351.50" stroke="#000" stroke-width="1.75"/>
<line x1="227.30" y1="261.80" x2="230.80" y2="261.80" stroke="#000" stroke-width="1.3"/>
<text x="214.39" y="264.87" font-size="8.8" fill="#262626">18</text>
<line x1="227.30" y1="292.00" x2="230.80" y2="292.00" stroke="#000" stroke-width="1.3"/>
<text x="214.45" y="295.07" font-size="8.8" fill="#262626">12</text>
<line x1="227.30" y1="321.90" x2="230.80" y2="321.90" stroke="#000" stroke-width="1.3"/>
<text x="219.29" y="324.97" font-size="8.8" fill="#262626">6</text>
<line x1="227.30" y1="351.60" x2="230.80" y2="351.60" stroke="#000" stroke-width="1.3"/>
<text x="219.25" y="354.67" font-size="8.8" fill="#262626">0</text>
<text x="190.78" y="264.37" font-size="8.8" fill="#262626" textLength="13.98" lengthAdjust="spacingAndGlyphs">[10</text>
<text x="204.47" y="261.07" font-size="5.8" font-weight="bold" fill="#444" text-anchor="start">7</text>
<text x="208.92" y="264.87" font-size="8.8" fill="#262626" textLength="2.80" lengthAdjust="spacingAndGlyphs">]</text>
<line x1="242.00" y1="351.50" x2="242.00" y2="355.00" stroke="#000" stroke-width="1.3"/>
<line x1="264.40" y1="351.50" x2="264.40" y2="355.00" stroke="#000" stroke-width="1.3"/>
<text x="239.07" y="367.20" font-size="9.8" fill="#262626" textLength="6.16" lengthAdjust="spacingAndGlyphs">C</text>
<text x="258.98" y="367.20" font-size="9.8" fill="#262626" textLength="11.93" lengthAdjust="spacingAndGlyphs">AS</text>
<text transform="rotate(-90)" x="-326.69" y="194.00" font-size="10.5" fill="#262626" textLength="43.45" lengthAdjust="spacingAndGlyphs">Tumor load</text>
<text transform="rotate(-90)" x="-321.35" y="206.50" font-size="10.5" fill="#262626" textLength="32.31" lengthAdjust="spacingAndGlyphs">(spleen)</text>
<text x="243.41" y="268.20" font-size="8.8" fill="#262626" textLength="38.18" lengthAdjust="spacingAndGlyphs">p = 0,008</text>
<line x1="241.80" y1="282.60" x2="241.80" y2="328.70" stroke="#2f426f" stroke-width="1.0"/>
<line x1="238.10" y1="282.60" x2="245.50" y2="282.60" stroke="#2f426f" stroke-width="1.0"/>
<line x1="238.10" y1="328.70" x2="245.50" y2="328.70" stroke="#2f426f" stroke-width="1.0"/>
<line x1="234.50" y1="305.50" x2="249.10" y2="305.50" stroke="#2f426f" stroke-width="1.1"/>
<circle cx="241.80" cy="274.50" r="1.9" fill="#2f426f"/>
<circle cx="244.90" cy="296.40" r="1.9" fill="#2f426f"/>
<circle cx="239.20" cy="301.10" r="1.9" fill="#2f426f"/>
<circle cx="241.80" cy="324.20" r="1.9" fill="#2f426f"/>
<circle cx="241.80" cy="331.60" r="1.9" fill="#2f426f"/>
<line x1="258.50" y1="347.30" x2="271.80" y2="347.30" stroke="#a3173f" stroke-width="1.4"/>
<path d="M257.30,345.81 L261.70,345.81 L259.50,348.98Z" fill="#a3173f"/>
<path d="M260.30,345.31 L264.70,345.31 L262.50,348.48Z" fill="#a3173f"/>
<path d="M262.80,346.31 L267.20,346.31 L265.00,349.48Z" fill="#a3173f"/>
<path d="M265.80,345.61 L270.20,345.61 L268.00,348.78Z" fill="#a3173f"/>
<path d="M268.30,346.01 L272.70,346.01 L270.50,349.18Z" fill="#a3173f"/>
<path d="M262.20,348.31 L266.60,348.31 L264.40,351.48Z" fill="#a3173f"/>
<line x1="333.30" y1="258.50" x2="333.30" y2="352.40" stroke="#000" stroke-width="1.75"/>
<line x1="332.70" y1="351.80" x2="378.80" y2="351.80" stroke="#000" stroke-width="1.75"/>
<line x1="329.80" y1="262.20" x2="333.30" y2="262.20" stroke="#000" stroke-width="1.3"/>
<text x="321.89" y="265.27" font-size="8.8" fill="#262626">3</text>
<line x1="329.80" y1="292.10" x2="333.30" y2="292.10" stroke="#000" stroke-width="1.3"/>
<text x="321.95" y="295.17" font-size="8.8" fill="#262626">2</text>
<line x1="329.80" y1="322.10" x2="333.30" y2="322.10" stroke="#000" stroke-width="1.3"/>
<text x="321.94" y="325.17" font-size="8.8" fill="#262626">1</text>
<line x1="329.80" y1="352.00" x2="333.30" y2="352.00" stroke="#000" stroke-width="1.3"/>
<text x="321.85" y="355.07" font-size="8.8" fill="#262626">0</text>
<text x="299.44" y="264.77" font-size="8.8" fill="#262626" textLength="12.83" lengthAdjust="spacingAndGlyphs">[10</text>
<text x="312.02" y="261.47" font-size="5.8" font-weight="bold" fill="#444" text-anchor="start">7</text>
<text x="315.92" y="265.27" font-size="8.8" fill="#262626" textLength="2.80" lengthAdjust="spacingAndGlyphs">]</text>
<line x1="344.50" y1="351.80" x2="344.50" y2="355.30" stroke="#000" stroke-width="1.3"/>
<line x1="367.40" y1="351.80" x2="367.40" y2="355.30" stroke="#000" stroke-width="1.3"/>
<text x="341.31" y="367.00" font-size="9.8" fill="#262626" textLength="6.96" lengthAdjust="spacingAndGlyphs">C</text>
<text x="361.28" y="367.00" font-size="9.8" fill="#262626" textLength="11.93" lengthAdjust="spacingAndGlyphs">AS</text>
<text transform="rotate(-90)" x="-327.70" y="301.40" font-size="10.5" fill="#262626" textLength="44.57" lengthAdjust="spacingAndGlyphs">Tumor load</text>
<text transform="rotate(-90)" x="-315.38" y="314.50" font-size="10.5" fill="#262626" textLength="20.15" lengthAdjust="spacingAndGlyphs">(BM)</text>
<text x="344.32" y="273.80" font-size="8.8" fill="#262626" textLength="32.86" lengthAdjust="spacingAndGlyphs">p = 0,05</text>
<line x1="344.50" y1="284.80" x2="344.50" y2="317.60" stroke="#2f426f" stroke-width="1.0"/>
<line x1="340.60" y1="284.80" x2="348.40" y2="284.80" stroke="#2f426f" stroke-width="1.0"/>
<line x1="340.60" y1="317.60" x2="348.40" y2="317.60" stroke="#2f426f" stroke-width="1.0"/>
<line x1="337.30" y1="301.40" x2="351.70" y2="301.40" stroke="#2f426f" stroke-width="1.1"/>
<circle cx="341.80" cy="281.90" r="1.9" fill="#2f426f"/>
<circle cx="347.20" cy="286.20" r="1.9" fill="#2f426f"/>
<circle cx="344.50" cy="305.60" r="1.9" fill="#2f426f"/>
<circle cx="344.50" cy="311.00" r="1.9" fill="#2f426f"/>
<circle cx="344.50" cy="321.00" r="1.9" fill="#2f426f"/>
<line x1="367.20" y1="314.10" x2="367.20" y2="339.60" stroke="#a3173f" stroke-width="1.0"/>
<line x1="363.10" y1="314.10" x2="371.40" y2="314.10" stroke="#a3173f" stroke-width="1.0"/>
<line x1="363.50" y1="339.60" x2="371.00" y2="339.60" stroke="#a3173f" stroke-width="1.0"/>
<line x1="359.70" y1="326.90" x2="374.80" y2="326.90" stroke="#a3173f" stroke-width="1.1"/>
<path d="M365.20,310.78 L369.20,310.78 L367.20,307.90Z" fill="#a3173f"/>
<path d="M367.20,319.00 L369.10,320.90 L367.20,322.80 L365.30,320.90Z" fill="#a3173f"/>
<circle cx="367.20" cy="329.60" r="1.7" fill="#a3173f"/>
<path d="M367.70,338.88 L371.70,338.88 L369.70,336.00Z" fill="#a3173f"/>
<rect x="362.50" y="339.10" width="3.00" height="3.00" fill="#a3173f"/>
<line x1="438.90" y1="259.80" x2="438.90" y2="353.50" stroke="#000" stroke-width="1.75"/>
<line x1="438.30" y1="352.90" x2="483.80" y2="352.90" stroke="#000" stroke-width="1.75"/>
<line x1="435.40" y1="262.50" x2="438.90" y2="262.50" stroke="#000" stroke-width="1.3"/>
<text x="419.65" y="265.57" font-size="8.8" fill="#262626">1.8</text>
<line x1="435.40" y1="292.40" x2="438.90" y2="292.40" stroke="#000" stroke-width="1.3"/>
<text x="419.71" y="295.47" font-size="8.8" fill="#262626">1.2</text>
<line x1="435.40" y1="322.50" x2="438.90" y2="322.50" stroke="#000" stroke-width="1.3"/>
<text x="419.65" y="325.57" font-size="8.8" fill="#262626">0.6</text>
<line x1="435.40" y1="352.30" x2="438.90" y2="352.30" stroke="#000" stroke-width="1.3"/>
<text x="419.61" y="355.37" font-size="8.8" fill="#262626">0.0</text>
<text x="396.38" y="265.07" font-size="8.8" fill="#262626" textLength="13.98" lengthAdjust="spacingAndGlyphs">[10</text>
<text x="410.07" y="261.77" font-size="5.8" font-weight="bold" fill="#444" text-anchor="start">7</text>
<text x="414.52" y="265.57" font-size="8.8" fill="#262626" textLength="2.80" lengthAdjust="spacingAndGlyphs">]</text>
<line x1="449.90" y1="352.90" x2="449.90" y2="356.40" stroke="#000" stroke-width="1.3"/>
<line x1="472.40" y1="352.90" x2="472.40" y2="356.40" stroke="#000" stroke-width="1.3"/>
<text x="446.73" y="368.00" font-size="9.8" fill="#262626" textLength="6.73" lengthAdjust="spacingAndGlyphs">C</text>
<text x="466.58" y="368.00" font-size="9.8" fill="#262626" textLength="11.62" lengthAdjust="spacingAndGlyphs">AS</text>
<text transform="rotate(-90)" x="-327.70" y="399.60" font-size="10.5" fill="#262626" textLength="44.06" lengthAdjust="spacingAndGlyphs">Tumor load</text>
<text transform="rotate(-90)" x="-317.63" y="411.80" font-size="10.5" fill="#262626" textLength="23.55" lengthAdjust="spacingAndGlyphs">(CNS)</text>
<text x="451.21" y="269.10" font-size="8.8" fill="#262626" textLength="38.69" lengthAdjust="spacingAndGlyphs">p = 0,008</text>
<line x1="449.90" y1="292.40" x2="449.90" y2="343.50" stroke="#2f426f" stroke-width="1.0"/>
<line x1="445.90" y1="292.40" x2="453.90" y2="292.40" stroke="#2f426f" stroke-width="1.0"/>
<line x1="445.90" y1="343.50" x2="453.90" y2="343.50" stroke="#2f426f" stroke-width="1.0"/>
<line x1="442.50" y1="318.00" x2="457.30" y2="318.00" stroke="#2f426f" stroke-width="1.1"/>
<circle cx="449.90" cy="275.20" r="1.9" fill="#2f426f"/>
<circle cx="449.90" cy="314.10" r="1.9" fill="#2f426f"/>
<circle cx="449.90" cy="327.30" r="1.9" fill="#2f426f"/>
<circle cx="446.80" cy="336.30" r="1.9" fill="#2f426f"/>
<circle cx="452.60" cy="336.30" r="1.9" fill="#2f426f"/>
<line x1="465.50" y1="350.70" x2="479.50" y2="350.70" stroke="#a3173f" stroke-width="1.4"/>
<path d="M464.80,349.11 L469.20,349.11 L467.00,352.28Z" fill="#a3173f"/>
<path d="M467.80,348.61 L472.20,348.61 L470.00,351.78Z" fill="#a3173f"/>
<path d="M470.80,349.31 L475.20,349.31 L473.00,352.48Z" fill="#a3173f"/>
<path d="M473.80,348.81 L478.20,348.81 L476.00,351.98Z" fill="#a3173f"/>
<path d="M476.30,349.41 L480.70,349.41 L478.50,352.58Z" fill="#a3173f"/>
<path d="M470.20,351.01 L474.60,351.01 L472.40,354.18Z" fill="#a3173f"/>
<line x1="221.10" y1="553.70" x2="221.10" y2="654.60" stroke="#000" stroke-width="1.75"/>
<line x1="220.50" y1="654.00" x2="367.70" y2="654.00" stroke="#000" stroke-width="1.75"/>
<line x1="217.70" y1="556.73" x2="221.10" y2="556.73" stroke="#000" stroke-width="1.3"/>
<text x="199.86" y="559.80" font-size="8.8" fill="#262626">100</text>
<line x1="217.70" y1="576.08" x2="221.10" y2="576.08" stroke="#000" stroke-width="1.3"/>
<text x="204.76" y="579.16" font-size="8.8" fill="#262626">80</text>
<line x1="217.70" y1="595.44" x2="221.10" y2="595.44" stroke="#000" stroke-width="1.3"/>
<text x="204.76" y="598.51" font-size="8.8" fill="#262626">60</text>
<line x1="217.70" y1="614.79" x2="221.10" y2="614.79" stroke="#000" stroke-width="1.3"/>
<text x="204.76" y="617.86" font-size="8.8" fill="#262626">40</text>
<line x1="217.70" y1="634.15" x2="221.10" y2="634.15" stroke="#000" stroke-width="1.3"/>
<text x="204.76" y="637.22" font-size="8.8" fill="#262626">20</text>
<line x1="217.70" y1="653.50" x2="221.10" y2="653.50" stroke="#000" stroke-width="1.3"/>
<text x="209.65" y="656.57" font-size="8.8" fill="#262626">0</text>
<text x="182.92" y="560.10" font-size="8.8" fill="#262626" textLength="13.76" lengthAdjust="spacingAndGlyphs">[%]</text>
<line x1="221.20" y1="654.00" x2="221.20" y2="657.40" stroke="#000" stroke-width="1.3"/>
<text x="218.95" y="668.90" font-size="8.8" fill="#262626">0</text>
<line x1="252.80" y1="654.00" x2="252.80" y2="657.40" stroke="#000" stroke-width="1.3"/>
<text x="250.56" y="668.90" font-size="8.8" fill="#262626">5</text>
<line x1="284.40" y1="654.00" x2="284.40" y2="657.40" stroke="#000" stroke-width="1.3"/>
<text x="279.54" y="668.90" font-size="8.8" fill="#262626">10</text>
<line x1="316.00" y1="654.00" x2="316.00" y2="657.40" stroke="#000" stroke-width="1.3"/>
<text x="311.16" y="668.90" font-size="8.8" fill="#262626">15</text>
<line x1="347.60" y1="654.00" x2="347.60" y2="657.40" stroke="#000" stroke-width="1.3"/>
<text x="342.86" y="668.90" font-size="8.8" fill="#262626">20</text>
<text x="242.10" y="683.80" font-size="10.5" fill="#262626" textLength="105.43" lengthAdjust="spacingAndGlyphs">Time post-treatment [days]</text>
<text transform="rotate(-90)" x="-649.60" y="191.40" font-size="10.5" fill="#262626" textLength="85.89" lengthAdjust="spacingAndGlyphs">leukemia-free survival</text>
<polyline points="240.16,556.73 240.16,556.73 240.16,566.41 265.44,566.41 265.44,576.08 278.08,576.08 278.08,585.76 290.72,585.76 290.72,595.44 297.04,595.44 297.04,605.12 303.36,605.12 303.36,624.47 328.64,624.47 328.64,638.98 360.24,638.98 360.24,654.00" fill="none" stroke="#9a1238" stroke-width="1.9" stroke-linejoin="miter"/>
<polyline points="221.10,556.73 240.16,556.73 240.16,576.08 246.48,576.08 246.48,585.76 252.80,585.76 252.80,595.44 259.12,595.44 259.12,614.79 265.44,614.79 265.44,624.47 278.08,624.47 278.08,634.15 284.40,634.15 284.40,643.82 297.04,643.82 297.04,654.00" fill="none" stroke="#2d4472" stroke-width="1.9" stroke-linejoin="miter"/>
<line x1="310.31" y1="621.27" x2="310.31" y2="624.47" stroke="#9a1238" stroke-width="1.0"/>
<line x1="307.20" y1="562.70" x2="320.80" y2="562.70" stroke="#2d4472" stroke-width="1.7"/>
<line x1="314.40" y1="559.20" x2="314.40" y2="562.70" stroke="#2d4472" stroke-width="1.0"/>
<line x1="307.20" y1="572.80" x2="320.80" y2="572.80" stroke="#9a1238" stroke-width="1.7"/>
<line x1="314.40" y1="569.30" x2="314.40" y2="572.80" stroke="#9a1238" stroke-width="1.0"/>
<text x="324.37" y="565.60" font-size="9.200000000000001" fill="#262626" textLength="6.16" lengthAdjust="spacingAndGlyphs">C</text>
<text x="324.78" y="575.60" font-size="9.200000000000001" fill="#262626" textLength="10.79" lengthAdjust="spacingAndGlyphs">AS</text>
<text x="331.27" y="619.50" font-size="8.8" fill="#262626" textLength="34.91" lengthAdjust="spacingAndGlyphs">Log-rank</text>
<text x="331.42" y="629.70" font-size="8.8" fill="#262626" textLength="37.88" lengthAdjust="spacingAndGlyphs">p = 0.003</text>
<defs>
<radialGradient id="gD" cx="0.5" cy="0.45" r="0.75">
<stop offset="0" stop-color="#d6d6d2"/><stop offset="0.6" stop-color="#c2c2be"/><stop offset="1" stop-color="#9c9d9b"/></radialGradient>
<radialGradient id="gE" cx="0.5" cy="0.45" r="0.75">
<stop offset="0" stop-color="#a4a496"/><stop offset="0.6" stop-color="#8a8b7e"/><stop offset="1" stop-color="#5e6158"/></radialGradient>
<filter id="soft" x="-5%" y="-5%" width="110%" height="110%"><feGaussianBlur stdDeviation="0.45"/></filter>
</defs>
<g filter="url(#soft)">
<rect x="39.50" y="410.00" width="36.10" height="20.40" fill="url(#gD)"/>
<rect x="39.50" y="427.80" width="36.10" height="2.6" fill="#7b8a97" opacity="0.8"/>
<path d="M42.00,426.40 C43.50,412.00 71.60,412.00 73.10,426.40" fill="none" stroke="#f2f2f0" stroke-width="2.2" opacity="0.55"/>

<path d="M42.8,427.6 C42.6,421 48,417.9 57,417.9 C66,417.9 71.2,421 71.1,427.6 C66,428.4 48,428.4 42.8,427.6Z" fill="#4a0c16" stroke="#7a1626" stroke-width="1.0" stroke-linejoin="round"/>
<rect x="39.90" y="410.40" width="35.30" height="19.60" fill="none" stroke="#444" stroke-width="0.8"/>

<rect x="75.60" y="410.00" width="35.90" height="20.40" fill="url(#gD)"/>
<rect x="75.60" y="427.80" width="35.90" height="2.6" fill="#7b8a97" opacity="0.8"/>
<path d="M78.10,426.40 C79.60,412.00 107.50,412.00 109.00,426.40" fill="none" stroke="#f2f2f0" stroke-width="2.2" opacity="0.55"/>

<path d="M78.2,411.6 C81,415.5 90,417.5 99,416 C103.5,415 106,412.4 108.4,412.8 C109,418.5 103,424.6 94,425.2 C85,425.6 78.4,420 78.2,411.6Z" fill="#480c1a" stroke="#761628" stroke-width="1.0" stroke-linejoin="round"/>
<rect x="76.00" y="410.40" width="35.10" height="19.60" fill="none" stroke="#444" stroke-width="0.8"/>
<rect x="111.50" y="410.00" width="35.10" height="20.40" fill="url(#gD)"/>
<rect x="111.50" y="427.80" width="35.10" height="2.6" fill="#7b8a97" opacity="0.8"/>
<path d="M114.00,426.40 C115.50,412.00 142.60,412.00 144.10,426.40" fill="none" stroke="#f2f2f0" stroke-width="2.2" opacity="0.55"/>

<path d="M115.6,420.2 C120,420 132,422 140.6,420.4 C140,424 134,427.2 127,427.2 C120,427 115.5,424 115.6,420.2Z" fill="#4e0c18" stroke="#7c1828" stroke-width="1.0" stroke-linejoin="round"/>
<rect x="111.90" y="410.40" width="34.30" height="19.60" fill="none" stroke="#444" stroke-width="0.8"/>
<rect x="146.60" y="410.00" width="37.20" height="20.40" fill="url(#gD)"/>
<rect x="146.60" y="427.80" width="37.20" height="2.6" fill="#7b8a97" opacity="0.8"/>
<path d="M149.10,426.40 C150.60,412.00 179.80,412.00 181.30,426.40" fill="none" stroke="#f2f2f0" stroke-width="2.2" opacity="0.55"/>

<path d="M154,418 C156,416.5 160,419 166,420.5 C171,421.5 177,421 179,423 C179,426 172,427.4 165,427.4 C158,427.4 153,424 154,418Z" fill="#6a0e1c" stroke="#9a1e30" stroke-width="1.0" stroke-linejoin="round"/>
<rect x="147.00" y="410.40" width="36.40" height="19.60" fill="none" stroke="#444" stroke-width="0.8"/>
<rect x="39.50" y="438.70" width="36.10" height="20.60" fill="url(#gD)"/>
<rect x="39.50" y="456.70" width="36.10" height="2.6" fill="#7b8a97" opacity="0.8"/>
<path d="M42.00,455.30 C43.50,440.70 71.60,440.70 73.10,455.30" fill="none" stroke="#f2f2f0" stroke-width="2.2" opacity="0.55"/>

<path d="M46.2,452.6 C47,450.6 50,449.9 53,450.4 C57,451 60,449 63.9,449.5 C64.6,452.5 62,455.8 56,456.2 C50,456.5 46,455.2 46.2,452.6Z" fill="#4e0c18" stroke="#7c1828" stroke-width="1.0" stroke-linejoin="round"/>
<rect x="39.90" y="439.10" width="35.30" height="19.80" fill="none" stroke="#444" stroke-width="0.8"/>
<rect x="75.60" y="438.70" width="35.90" height="20.60" fill="url(#gD)"/>
<rect x="75.60" y="456.70" width="35.90" height="2.6" fill="#7b8a97" opacity="0.8"/>
<path d="M78.10,455.30 C79.60,440.70 107.50,440.70 109.00,455.30" fill="none" stroke="#f2f2f0" stroke-width="2.2" opacity="0.55"/>

<path d="M86.8,451.3 C90,451.8 95,451.8 99.5,451.2 C99,454 96,455.4 93,455.4 C89.5,455.3 87.2,454 86.8,451.3Z" fill="#4e0c18" stroke="#7c1828" stroke-width="1.0" stroke-linejoin="round"/>
<rect x="76.00" y="439.10" width="35.10" height="19.80" fill="none" stroke="#444" stroke-width="0.8"/>
<rect x="111.50" y="438.70" width="35.10" height="20.60" fill="url(#gD)"/>
<rect x="111.50" y="456.70" width="35.10" height="2.6" fill="#7b8a97" opacity="0.8"/>
<path d="M114.00,455.30 C115.50,440.70 142.60,440.70 144.10,455.30" fill="none" stroke="#f2f2f0" stroke-width="2.2" opacity="0.55"/>
<path d="M117.5,442 l2,-1.5 l1.5,1.5 l2,-1.6 M124,442.3 l2.5,-1.8 l1,1.6 M129.5,442 l2,-1.8 l1.5,1.4 l2,-1.5 l1.5,1.2" fill="none" stroke="#3a3a3a" stroke-width="0.8"/>
<path d="M122.4,455.6 C123,452.6 125.5,451.6 127.7,451.6 C130.5,451.6 132.6,453 133,455.6 C130,455 126,455 122.4,455.6Z" fill="#3e0a14" stroke="#661420" stroke-width="1.0" stroke-linejoin="round"/>
<rect x="111.90" y="439.10" width="34.30" height="19.80" fill="none" stroke="#444" stroke-width="0.8"/>
<rect x="146.60" y="438.70" width="37.20" height="20.60" fill="url(#gD)"/>
<rect x="146.60" y="456.70" width="37.20" height="2.6" fill="#7b8a97" opacity="0.8"/>
<path d="M149.10,455.30 C150.60,440.70 179.80,440.70 181.30,455.30" fill="none" stroke="#f2f2f0" stroke-width="2.2" opacity="0.55"/>

<path d="M156.1,449.5 C158,448.6 162,450.2 166,450.3 C170,450.2 172.6,450.8 172.6,452.6 C172,456 166,457.3 162,457.3 C158,457.3 155.8,454 156.1,449.5Z" fill="#520a14" stroke="#861424" stroke-width="1.0" stroke-linejoin="round"/>
<rect x="147.00" y="439.10" width="36.40" height="19.80" fill="none" stroke="#444" stroke-width="0.8"/>
<path d="M79,413.5 l1.5,-2 l1.5,1.8 l1.6,-2 l1.5,1.5 M112.5,414.5 l1.8,-2.5 l1.6,1.6 l2,-2.2 l1.2,1 M142.5,411 l1.5,1" fill="none" stroke="#333" stroke-width="0.8"/>
<rect x="246.90" y="409.60" width="35.70" height="20.20" fill="url(#gE)"/>
<rect x="246.90" y="427.20" width="35.70" height="2.6" fill="#5d666c" opacity="0.8"/>
<path d="M249.90,424.80 C251.90,412.60 277.60,412.60 279.60,424.80" fill="none" stroke="#d0d0c4" stroke-width="2.4" opacity="0.18"/>

<path d="M252.3,414.6 C254.5,413.8 258,418.5 262,420 C267,421 273,418.5 277.8,417.4 C278.8,421.5 275,426 267,426.6 C260,427 255.5,424.5 254,421 C252.8,418.5 252,416 252.3,414.6Z" fill="#5e160c" stroke="#8a2614" stroke-width="1.0" stroke-linejoin="round"/>
<rect x="247.30" y="410.00" width="34.90" height="19.40" fill="none" stroke="#444" stroke-width="0.8"/>
<rect x="282.60" y="409.60" width="36.90" height="20.20" fill="url(#gE)"/>
<rect x="282.60" y="427.20" width="36.90" height="2.6" fill="#5d666c" opacity="0.8"/>
<path d="M285.60,424.80 C287.60,412.60 314.50,412.60 316.50,424.80" fill="none" stroke="#d0d0c4" stroke-width="2.4" opacity="0.18"/>

<path d="M286.3,419 C288,416.5 293,417 298,417 C305,417 311,418.5 315.5,421.5 C315,425 309,425.8 300,425.6 C292,425.5 287,424.5 286.3,419Z" fill="#5e160c" stroke="#8a2614" stroke-width="1.0" stroke-linejoin="round"/>
<rect x="283.00" y="410.00" width="36.10" height="19.40" fill="none" stroke="#444" stroke-width="0.8"/>
<rect x="319.50" y="409.60" width="35.00" height="20.20" fill="url(#gE)"/>
<rect x="319.50" y="427.20" width="35.00" height="2.6" fill="#5d666c" opacity="0.8"/>
<path d="M322.50,424.80 C324.50,412.60 349.50,412.60 351.50,424.80" fill="none" stroke="#d0d0c4" stroke-width="2.4" opacity="0.18"/>

<path d="M322.9,421 C326,419.5 334,418 340,415.5 C345,414.5 350,416 351.4,419 C351,423.5 345,425.8 336,425.8 C328,425.8 323,424.5 322.9,421Z" fill="#5e160c" stroke="#8a2614" stroke-width="1.0" stroke-linejoin="round"/>
<rect x="319.90" y="410.00" width="34.20" height="19.40" fill="none" stroke="#444" stroke-width="0.8"/>
<rect x="354.50" y="409.60" width="35.50" height="20.20" fill="url(#gE)"/>
<rect x="354.50" y="427.20" width="35.50" height="2.6" fill="#5d666c" opacity="0.8"/>
<path d="M357.50,424.80 C359.50,412.60 385.00,412.60 387.00,424.80" fill="none" stroke="#d0d0c4" stroke-width="2.4" opacity="0.18"/>

<path d="M357.5,415.8 C359,415 361,419 365,421 C370,422 378,417 383.7,413.5 C385,417 382,424 375,425.4 C368,426.2 361,424 358.5,420.5 C357.6,419 357.2,417 357.5,415.8Z" fill="#5e160c" stroke="#8a2614" stroke-width="1.0" stroke-linejoin="round"/>
<rect x="354.90" y="410.00" width="34.70" height="19.40" fill="none" stroke="#444" stroke-width="0.8"/>
<rect x="390.00" y="409.60" width="36.20" height="20.20" fill="url(#gE)"/>
<rect x="390.00" y="427.20" width="36.20" height="2.6" fill="#5d666c" opacity="0.8"/>
<path d="M393.00,424.80 C395.00,412.60 421.20,412.60 423.20,424.80" fill="none" stroke="#d0d0c4" stroke-width="2.4" opacity="0.18"/>

<path d="M395,412 C396.5,411.5 399,415 402,418 C406,421 412,420 418,418.3 C418.5,422 414,426 408,426 C402,425.8 398,422 396,418 C395,416 394.5,413 395,412Z" fill="#5e160c" stroke="#8a2614" stroke-width="1.0" stroke-linejoin="round"/>
<rect x="390.40" y="410.00" width="35.40" height="19.40" fill="none" stroke="#444" stroke-width="0.8"/>
<rect x="246.90" y="438.30" width="35.70" height="20.70" fill="url(#gE)"/>
<rect x="246.90" y="456.40" width="35.70" height="2.6" fill="#5d666c" opacity="0.8"/>
<path d="M249.90,454.00 C251.90,441.30 277.60,441.30 279.60,454.00" fill="none" stroke="#d0d0c4" stroke-width="2.4" opacity="0.18"/>

<path d="M254.8,447.1 C259,448.5 267,448.5 272.5,446.6 C272,450.5 267,453.2 262,453.2 C258,453 255.5,450.5 254.8,447.1Z" fill="#5e160c" stroke="#8a2614" stroke-width="1.0" stroke-linejoin="round"/>
<rect x="247.30" y="438.70" width="34.90" height="19.90" fill="none" stroke="#444" stroke-width="0.8"/>
<rect x="282.60" y="438.30" width="36.90" height="20.70" fill="url(#gE)"/>
<rect x="282.60" y="456.40" width="36.90" height="2.6" fill="#5d666c" opacity="0.8"/>
<path d="M285.60,454.00 C287.60,441.30 314.50,441.30 316.50,454.00" fill="none" stroke="#d0d0c4" stroke-width="2.4" opacity="0.18"/>

<path d="M292.5,448.6 C296,450 305,450 310.2,447.8 C309.5,452.5 305,455.2 300,455.2 C296,455 293,452.5 292.5,448.6Z" fill="#5e160c" stroke="#8a2614" stroke-width="1.0" stroke-linejoin="round"/>
<rect x="283.00" y="438.70" width="36.10" height="19.90" fill="none" stroke="#444" stroke-width="0.8"/>
<rect x="319.50" y="438.30" width="35.00" height="20.70" fill="url(#gE)"/>
<rect x="319.50" y="456.40" width="35.00" height="2.6" fill="#5d666c" opacity="0.8"/>
<path d="M322.50,454.00 C324.50,441.30 349.50,441.30 351.50,454.00" fill="none" stroke="#d0d0c4" stroke-width="2.4" opacity="0.18"/>

<path d="M327.3,452.8 C328,449 331,447 334.5,447 C338,447 341,449.5 341.6,453.2 L340,453.2 C339,450.5 337,449.4 334.5,449.4 C332,449.4 330,450.8 329.2,452.8Z" fill="#5e160c" stroke="#8a2614" stroke-width="1.0" stroke-linejoin="round"/>
<rect x="319.90" y="438.70" width="34.20" height="19.90" fill="none" stroke="#444" stroke-width="0.8"/>
<rect x="354.50" y="438.30" width="35.50" height="20.70" fill="url(#gE)"/>
<rect x="354.50" y="456.40" width="35.50" height="2.6" fill="#5d666c" opacity="0.8"/>
<path d="M357.50,454.00 C359.50,441.30 385.00,441.30 387.00,454.00" fill="none" stroke="#d0d0c4" stroke-width="2.4" opacity="0.18"/>

<path d="M360.6,449.4 C364,448.8 372,449.5 380.6,448.6 C380,452 375,454 369,454 C364,454 361,452.5 360.6,449.4Z" fill="#5e160c" stroke="#8a2614" stroke-width="1.0" stroke-linejoin="round"/>
<rect x="354.90" y="438.70" width="34.70" height="19.90" fill="none" stroke="#444" stroke-width="0.8"/>
<rect x="390.00" y="438.30" width="36.20" height="20.70" fill="url(#gE)"/>
<rect x="390.00" y="456.40" width="36.20" height="2.6" fill="#5d666c" opacity="0.8"/>
<path d="M393.00,454.00 C395.00,441.30 421.20,441.30 423.20,454.00" fill="none" stroke="#d0d0c4" stroke-width="2.4" opacity="0.18"/>
<rect x="391.00" y="453.6" width="34.20" height="4.8" fill="#8a949a" opacity="0.85"/>
<path d="M399,452.8 C399.2,447.5 403,445 407.5,445 C412,445 415.7,447.5 415.9,452.8 L413.2,452.8 C413,449.8 410.5,448.3 407.5,448.3 C404.5,448.3 402,449.8 401.8,452.8 Z" fill="#5e160c" stroke="#8a2614" stroke-width="1.0" stroke-linejoin="round"/>
<rect x="390.40" y="438.70" width="35.40" height="19.90" fill="none" stroke="#444" stroke-width="0.8"/>
</g>
<text transform="rotate(-90)" x="-426.63" y="32.80" font-size="9.3" fill="#262626" textLength="8.89" lengthAdjust="spacingAndGlyphs">C</text>
<text transform="rotate(-90)" x="-455.82" y="32.80" font-size="9.3" fill="#262626" textLength="12.14" lengthAdjust="spacingAndGlyphs">AS</text>
<text transform="rotate(-90)" x="-426.57" y="240.70" font-size="9.3" fill="#262626" textLength="8.10" lengthAdjust="spacingAndGlyphs">C</text>
<text transform="rotate(-90)" x="-455.82" y="240.70" font-size="9.3" fill="#262626" textLength="12.14" lengthAdjust="spacingAndGlyphs">AS</text>
<text x="187.55" y="458.80" font-size="7.5" fill="#262626" textLength="15.73" lengthAdjust="spacingAndGlyphs">1 cm</text>
<line x1="186.90" y1="460.60" x2="203.10" y2="460.60" stroke="#000" stroke-width="1.3"/>
<text x="428.44" y="458.80" font-size="7.5" fill="#262626" textLength="16.05" lengthAdjust="spacingAndGlyphs">1 cm</text>
<line x1="428.00" y1="460.60" x2="444.50" y2="460.60" stroke="#000" stroke-width="1.3"/>
<rect x="0" y="0" width="520" height="1.8" fill="#000"/>
<rect x="0" y="0" width="1.7" height="695" fill="#000"/>
<rect x="518.3" y="0" width="1.7" height="695" fill="#000"/>
<rect x="0" y="693.0" width="520" height="2" fill="#000"/>
</svg>
</body></html>
